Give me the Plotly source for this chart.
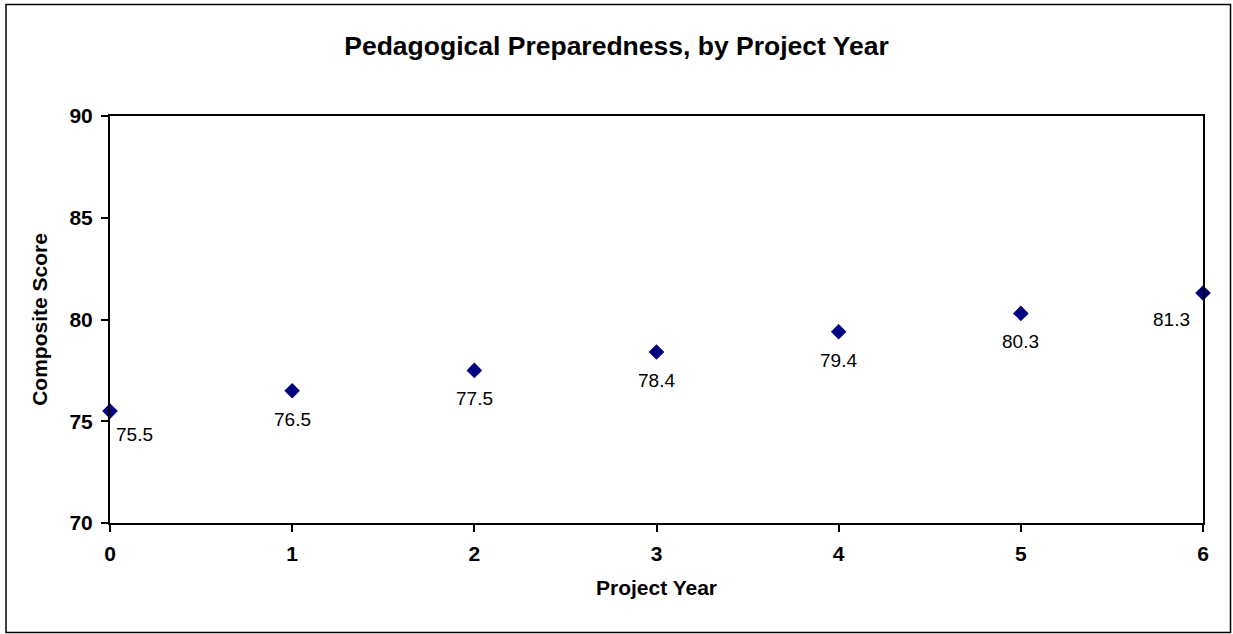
import plotly.graph_objects as go

project_year = [0, 1, 2, 3, 4, 5, 6]
composite_score = [75.5, 76.5, 77.5, 78.4, 79.4, 80.3, 81.3]
score_labels = ["75.5", "76.5", "77.5", "78.4", "79.4", "80.3", "81.3"]
x_ticks = [0, 1, 2, 3, 4, 5, 6]
y_ticks = [70, 75, 80, 85, 90]

FONT = "Liberation Sans, Arial, sans-serif"

W, H = 1233, 634
ml, mr, mt, mb = 110, 30, 116, 111
pw, ph = W - ml - mr, H - mt - mb


def px_x(v):
    return (v - ml) / pw


def px_y(v):
    return (H - mb - v) / ph


fig = go.Figure()
fig.add_trace(
    go.Scatter(
        x=project_year,
        y=composite_score,
        mode="markers",
        marker=dict(symbol="diamond", size=12, color="#000080"),
        cliponaxis=False,
        showlegend=False,
    )
)

# data labels below each point; Excel nudges the edge ones inward
for i, (xv, yv, lab) in enumerate(zip(project_year, composite_score, score_labels)):
    anchor, dx, dy = "center", 0, -16
    if i == 0:
        anchor, dx, dy = "left", 4, -11
    elif i == len(project_year) - 1:
        anchor, dx, dy = "right", -11, -14
    fig.add_annotation(
        x=xv, y=yv, text=lab, showarrow=False,
        xanchor=anchor, yanchor="top", xshift=dx, yshift=dy,
        font=dict(family=FONT, size=19, color="black"),
    )

fig.add_shape(
    type="rect", xref="paper", yref="paper",
    x0=px_x(6), x1=px_x(1230.5), y0=px_y(632.5), y1=px_y(4.5),
    line=dict(color="black", width=1.5), layer="below",
)

fig.update_layout(
    width=W,
    height=H,
    margin=dict(l=ml, r=mr, t=mt, b=mb),
    paper_bgcolor="white",
    plot_bgcolor="white",
    font=dict(family=FONT, color="black"),
    title=dict(
        text="<b>Pedagogical Preparedness, by Project Year</b>",
        x=0.5, xref="container", xanchor="center",
        y=1 - 46 / H, yanchor="middle",
        font=dict(size=26.5),
    ),
)
fig.update_xaxes(
    range=[0, 6],
    tickvals=x_ticks,
    ticks="outside", ticklen=7, tickwidth=2, tickcolor="black",
    showline=True, linecolor="black", linewidth=2, mirror=True,
    showgrid=False, zeroline=False,
    tickfont=dict(size=21, family=FONT, weight="bold"),
    ticklabelstandoff=4,
    title=dict(text="<b>Project Year</b>", font=dict(size=21), standoff=16),
)
fig.update_yaxes(
    range=[70, 90],
    tickvals=y_ticks,
    ticks="outside", ticklen=7, tickwidth=2, tickcolor="black",
    showline=True, linecolor="black", linewidth=2, mirror=True,
    showgrid=False, zeroline=False,
    tickfont=dict(size=21, family=FONT, weight="bold"),
    ticklabelstandoff=4,
    title=dict(text="<b>Composite Score</b>", font=dict(size=21), standoff=16),
)

fig.write_html(
    "out.html",
    config={"displayModeBar": False},
    post_script="document.body.style.margin='0';",
)
